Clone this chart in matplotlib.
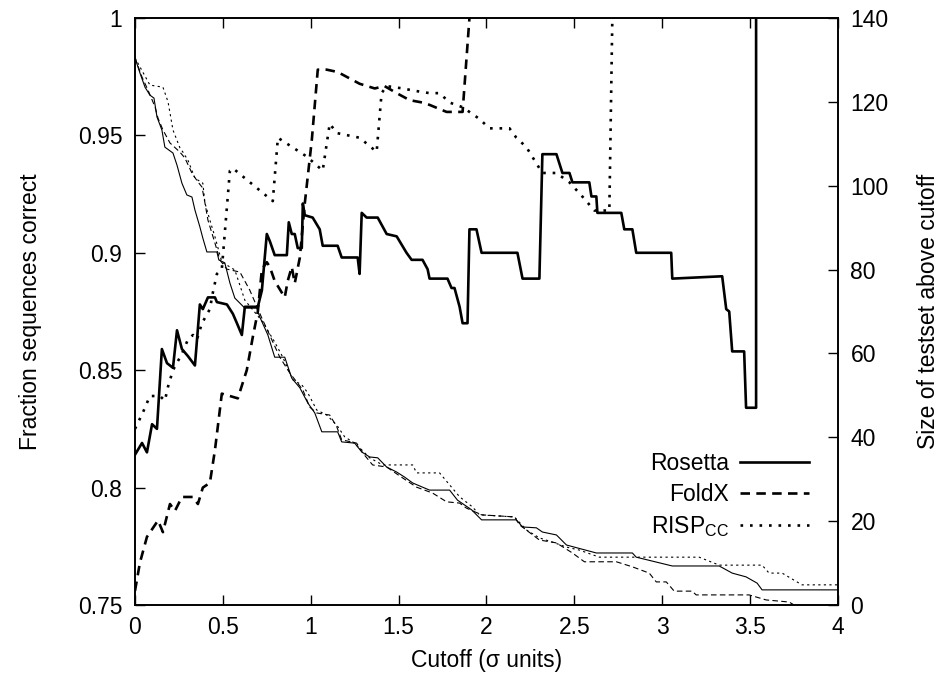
import matplotlib
matplotlib.use("Agg")
import matplotlib.pyplot as plt

plt.rcParams['font.family'] = ['Liberation Sans', 'DejaVu Sans']

# fraction of sequences correct (left axis)
ros_x = [0, 0.040, 0.068, 0.097, 0.125, 0.153, 0.182, 0.216, 0.239, 0.267, 0.301, 0.341, 0.369, 0.386,
         0.415, 0.455, 0.466, 0.523, 0.557, 0.580, 0.608, 0.625, 0.699, 0.722, 0.750, 0.767, 0.795, 0.864,
         0.875, 0.892, 0.909, 0.926, 0.949, 0.955, 0.966, 1.011, 1.051, 1.068, 1.153, 1.176, 1.267, 1.278,
         1.290, 1.318, 1.381, 1.432, 1.489, 1.545, 1.574, 1.636, 1.665, 1.676, 1.778, 1.801, 1.818, 1.847,
         1.864, 1.892, 1.903, 1.943, 1.972, 2.176, 2.205, 2.301, 2.318, 2.398, 2.415, 2.432, 2.472, 2.489,
         2.585, 2.597, 2.625, 2.631, 2.767, 2.784, 2.830, 2.852, 3.051, 3.057, 3.341, 3.364, 3.381, 3.398,
         3.466, 3.477, 3.534, 3.534]
ros_y = [0.814, 0.819, 0.815, 0.827, 0.825, 0.859, 0.853, 0.851, 0.867, 0.859, 0.856, 0.852, 0.878, 0.876,
         0.881, 0.881, 0.879, 0.878, 0.874, 0.870, 0.865, 0.877, 0.877, 0.884, 0.908, 0.905, 0.899, 0.899,
         0.913, 0.908, 0.908, 0.902, 0.902, 0.921, 0.916, 0.915, 0.910, 0.903, 0.903, 0.898, 0.898, 0.891,
         0.917, 0.915, 0.915, 0.908, 0.907, 0.900, 0.897, 0.897, 0.893, 0.889, 0.889, 0.885, 0.885, 0.877,
         0.870, 0.870, 0.910, 0.910, 0.900, 0.900, 0.889, 0.889, 0.942, 0.942, 0.938, 0.934, 0.934, 0.930,
         0.930, 0.924, 0.924, 0.917, 0.917, 0.910, 0.910, 0.900, 0.900, 0.889, 0.890, 0.876, 0.875, 0.858,
         0.858, 0.834, 0.834, 1.0]

foldx_x = [0, 0.028, 0.068, 0.131, 0.159, 0.199, 0.227, 0.267, 0.330, 0.358, 0.386, 0.426, 0.455, 0.494,
           0.540, 0.585, 0.636, 0.670, 0.699, 0.722, 0.750, 0.767, 0.795, 0.852, 0.869, 0.892, 0.909, 0.938,
           0.966, 1.006, 1.040, 1.091, 1.153, 1.278, 1.364, 1.420, 1.489, 1.563, 1.636, 1.676, 1.773, 1.864,
           1.903]
foldx_y = [0.756, 0.768, 0.779, 0.786, 0.781, 0.793, 0.790, 0.796, 0.796, 0.793, 0.800, 0.802, 0.816, 0.840,
           0.839, 0.838, 0.850, 0.864, 0.875, 0.893, 0.896, 0.894, 0.888, 0.881, 0.888, 0.894, 0.887, 0.898,
           0.921, 0.948, 0.978, 0.978, 0.977, 0.972, 0.970, 0.971, 0.968, 0.965, 0.964, 0.963, 0.960, 0.960,
           1.0]

risp_x = [0, 0.045, 0.085, 0.142, 0.170, 0.188, 0.216, 0.267, 0.301, 0.330, 0.352, 0.381, 0.426, 0.443,
          0.466, 0.494, 0.540, 0.557, 0.784, 0.813, 0.977, 1.068, 1.108, 1.148, 1.278, 1.375, 1.403, 1.432,
          1.523, 1.591, 1.676, 1.733, 1.790, 1.864, 1.903, 1.960, 2.017, 2.131, 2.170, 2.227, 2.301, 2.318,
          2.398, 2.472, 2.545, 2.614, 2.699, 2.716]
risp_y = [0.825, 0.832, 0.839, 0.839, 0.837, 0.843, 0.850, 0.857, 0.863, 0.865, 0.863, 0.870, 0.876, 0.883,
          0.891, 0.893, 0.935, 0.936, 0.922, 0.949, 0.941, 0.935, 0.955, 0.951, 0.949, 0.943, 0.968, 0.971,
          0.970, 0.969, 0.968, 0.968, 0.964, 0.962, 0.960, 0.957, 0.953, 0.953, 0.949, 0.945, 0.936, 0.934,
          0.934, 0.930, 0.924, 0.918, 0.918, 1.0]

# size of testset above cutoff (right axis)
ros_n_x = [0, 0.028, 0.057, 0.085, 0.108, 0.125, 0.153, 0.170, 0.216, 0.239, 0.267, 0.295, 0.324, 0.341,
           0.369, 0.386, 0.409, 0.466, 0.477, 0.511, 0.540, 0.568, 0.625, 0.693, 0.710, 0.756, 0.795, 0.852,
           0.892, 0.938, 0.983, 1.023, 1.063, 1.153, 1.176, 1.250, 1.290, 1.335, 1.381, 1.432, 1.489, 1.534,
           1.580, 1.636, 1.676, 1.790, 1.835, 1.915, 1.972, 2.170, 2.205, 2.284, 2.318, 2.398, 2.455, 2.625,
           2.830, 2.852, 3.057, 3.324, 3.398, 3.477, 3.540, 3.568, 4.0]
ros_n_y = [130.5, 126.9, 123.5, 121.6, 120.9, 116.4, 113.3, 109.2, 107.8, 104.9, 100.6, 97.8, 97.3, 94.2,
           90.2, 87.5, 84.2, 84.2, 82.3, 81.6, 76.8, 73.2, 70.8, 70.8, 68.7, 64.4, 59.1, 59.1,
           54.1, 51.8, 48.2, 45.8, 41.3, 41.3, 38.9, 38.6, 36.5, 35.3, 35.1, 32.9, 31.7, 30.5,
           29.1, 28.1, 27.4, 27.4, 25.0, 22.7, 20.3, 20.3, 18.6, 18.4, 17.4, 16.7, 14.3, 12.4,
           12.4, 11.4, 9.3, 9.3, 7.6, 6.7, 5.2, 3.6, 3.6]

foldx_n_x = [0, 0.040, 0.074, 0.114, 0.131, 0.159, 0.199, 0.256, 0.284, 0.324, 0.358, 0.381, 0.398, 0.415,
             0.455, 0.483, 0.523, 0.597, 0.653, 0.722, 0.824, 0.881, 0.920, 0.955, 0.994, 1.034, 1.108, 1.148,
             1.176, 1.261, 1.295, 1.352, 1.432, 1.523, 1.602, 1.693, 1.773, 1.847, 1.886, 1.972, 2.159, 2.188,
             2.301, 2.398, 2.489, 2.557, 2.739, 2.830, 2.926, 2.966, 3.023, 3.068, 3.170, 3.193, 3.494, 3.591,
             3.722, 3.750]
foldx_n_y = [130.5, 125.9, 122.8, 118.8, 116.1, 113.3, 110.2, 108.0, 106.6, 103.0, 100.9, 99.7, 95.9, 91.8,
             86.3, 82.3, 80.1, 79.4, 75.1, 68.4, 59.1, 55.3, 53.2, 51.3, 47.2, 45.8, 45.3, 42.5,
             39.4, 38.6, 36.3, 33.4, 32.9, 30.3, 28.1, 26.7, 24.6, 24.3, 23.1, 21.5, 21.0, 19.1,
             15.5, 14.8, 12.4, 10.3, 10.3, 9.1, 7.6, 5.5, 5.5, 3.3, 3.3, 2.4, 2.4, 1.2,
             0.7, 0.0]

risp_n_x = [0, 0.085, 0.159, 0.188, 0.216, 0.256, 0.273, 0.301, 0.341, 0.386, 0.398, 0.426, 0.455, 0.494,
            0.568, 0.625, 0.727, 0.795, 0.841, 0.898, 0.949, 0.983, 1.034, 1.091, 1.148, 1.193, 1.239, 1.290,
            1.335, 1.409, 1.580, 1.602, 1.733, 1.847, 1.920, 1.960, 2.159, 2.227, 2.301, 2.375, 2.455, 2.528,
            2.642, 3.210, 3.324, 3.568, 3.608, 3.682, 3.795, 4.0]
risp_n_y = [130.5, 124.0, 123.5, 120.0, 113.3, 109.0, 108.0, 106.1, 101.8, 100.6, 95.9, 91.8, 87.8, 81.8,
            79.9, 72.7, 67.5, 62.7, 59.1, 53.7, 52.5, 50.6, 46.5, 45.3, 42.9, 40.1, 38.9, 37.0,
            35.1, 33.4, 33.4, 31.5, 31.5, 25.8, 23.4, 21.5, 21.0, 17.9, 16.0, 15.0, 13.8, 13.1,
            11.4, 11.4, 9.5, 9.5, 7.6, 7.6, 4.8, 4.8]

fs = 16.5
fig = plt.figure(figsize=(9.5, 6.77), dpi=100)
ax = fig.add_axes([0.1421, 0.1064, 0.74, 0.867])
ax2 = ax.twinx()

thick = 1.9
thin = 0.8
l1, = ax.plot(ros_x, ros_y, color='black', lw=thick, ls='-', label='Rosetta')
l2, = ax.plot(foldx_x, foldx_y, color='black', lw=thick, ls=(0, (3.6, 2.4)), label='FoldX')
l3, = ax.plot(risp_x, risp_y, color='black', lw=thick, ls=(0, (1, 2.6)), label='RISP$_{\\mathregular{CC}}$')

ax2.plot(ros_n_x, ros_n_y, color='black', lw=thin, ls='-')
ax2.plot(foldx_n_x, foldx_n_y, color='black', lw=thin, ls=(0, (5, 3)))
ax2.plot(risp_n_x, risp_n_y, color='black', lw=thin, ls=(0, (2, 3)))

ax.set_xlim(0, 4)
ax.set_ylim(0.75, 1)
ax2.set_ylim(0, 140)

ax.set_xticks([0, 0.5, 1, 1.5, 2, 2.5, 3, 3.5, 4])
ax.set_xticklabels(['0', '0.5', '1', '1.5', '2', '2.5', '3', '3.5', '4'])
ax.set_yticks([0.75, 0.8, 0.85, 0.9, 0.95, 1])
ax.set_yticklabels(['0.75', '0.8', '0.85', '0.9', '0.95', '1'])
ax2.set_yticks([0, 20, 40, 60, 80, 100, 120, 140])

ax.tick_params(axis='x', direction='in', top=True, length=7, width=1, labelsize=fs, pad=8)
ax.tick_params(axis='y', direction='in', right=False, length=7, width=1, labelsize=fs, pad=9)
ax2.tick_params(axis='y', direction='in', length=7, width=1, labelsize=fs, pad=9)
for a in (ax, ax2):
    for s in a.spines.values():
        s.set_linewidth(1.2)

ax.set_xlabel('Cutoff (σ units)', fontsize=fs, labelpad=7)
ax.set_ylabel('Fraction sequences correct', fontsize=fs, labelpad=26)
ax2.set_ylabel('Size of testset above cutoff', fontsize=fs, labelpad=20)

ax.legend(handles=[l1, l2, l3], loc='center right', bbox_to_anchor=(0.959, 0.186),
          frameon=False, markerfirst=False, fontsize=fs, handlelength=3.0,
          handletextpad=0.5, labelspacing=0.35, borderpad=0, borderaxespad=0)

fig.savefig('out.png', dpi=100)
